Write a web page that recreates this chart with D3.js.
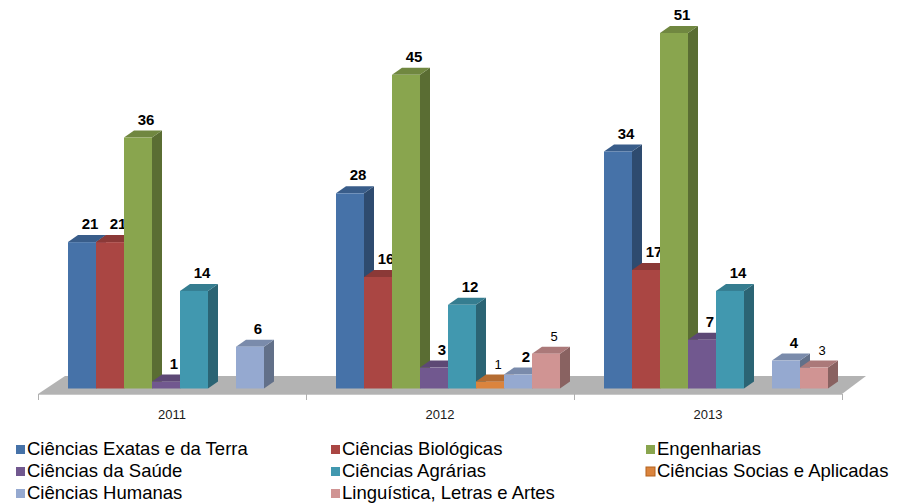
<!DOCTYPE html>
<html><head><meta charset="utf-8">
<script src="https://cdn.jsdelivr.net/npm/d3@7"></script>
<style>body{margin:0;background:#fff}svg{display:block}</style>
</head><body>
<svg id="chart" width="906" height="503"></svg>
<script>
const categories = ["2011", "2012", "2013"];
const seriesNames = [
  "Ciências Exatas e da Terra", "Ciências Biológicas", "Engenharias",
  "Ciências da Saúde", "Ciências Agrárias", "Ciências Socias e Aplicadas",
  "Ciências Humanas", "Linguística, Letras e Artes"
];
const exatas = [21, 28, 34];
const biologicas = [21, 16, 17];
const engenharias = [36, 45, 51];
const saude = [1, 3, 7];
const agrarias = [14, 12, 14];
const sociais = [null, 1, null];
const humanas = [6, 2, 4];
const linguistica = [null, 5, 3];
const seriesValues = [exatas, biologicas, engenharias, saude, agrarias, sociais, humanas, linguistica];

const colors = ["#4672A8", "#AA4643", "#89A54E", "#71588F", "#4198AF", "#DB843D", "#95A9D0", "#D09493"];
const plainLabelSeries = new Set([5, 7]);

const svg = d3.select("#chart");
const x = d3.scaleBand().domain(categories).range([38, 842]).padding(0);
const s = d3.scaleBand().domain(d3.range(seriesNames.length)).range([30, 254]).padding(0);
const y = d3.scaleLinear().domain([0, 51]).range([388.5, 33]);
const dx = 10, dy = 7;

// floor
const fy0 = 394, fdx = 27, fdy = 18;
const [xl, xr] = x.range();
svg.append("path")
  .attr("d", `M${xl},${fy0} L${xl+fdx},${fy0-fdy} L${xr+fdx-3},${fy0-fdy} L${xr},${fy0} Z`)
  .attr("fill", "#B3B3B3");
// axis
const axisG = svg.append("g").attr("transform", `translate(0,${fy0})`);
axisG.append("line").attr("x1", xl).attr("x2", xr).attr("y1", 0.5).attr("y2", 0.5)
  .attr("stroke", "#C8C8C8").attr("stroke-width", 1);
const tickXs = categories.map(c => x(c)).concat([xr]);
axisG.selectAll("line.tick").data(tickXs).enter().append("line")
  .attr("class", "tick").attr("x1", d => d + 0.5).attr("x2", d => d + 0.5)
  .attr("y1", 0).attr("y2", 6).attr("stroke", "#B0B0B0");
axisG.selectAll("text").data(categories).enter().append("text")
  .attr("x", d => x(d) + x.bandwidth() / 2).attr("y", 25)
  .attr("text-anchor", "middle").attr("font-family", "Liberation Sans, Arial, sans-serif")
  .attr("font-size", 13).attr("fill", "#1a1a1a").text(d => d);

function scaleColor(c, k) {
  const r = d3.rgb(c);
  return d3.rgb(r.r * k, r.g * k, r.b * k).formatHex();
}

const bars = [];
categories.forEach((c, ci) => {
  seriesValues.forEach((vals, si) => {
    const v = vals[ci];
    if (v == null || v === 0) return;
    bars.push({c, ci, si, v});
  });
});

const g = svg.append("g");
bars.forEach(b => {
  const x0 = x(b.c) + s(b.si), w = s.bandwidth();
  const yt = y(b.v), yb = y(0);
  const col = colors[b.si];
  g.append("path")
    .attr("d", `M${x0+w},${yb} L${x0+w+dx},${yb-dy} L${x0+w+dx},${yt-dy} L${x0+w},${yt} Z`)
    .attr("fill", scaleColor(col, 0.66));
  g.append("path")
    .attr("d", `M${x0},${yt} L${x0+dx},${yt-dy} L${x0+w+dx},${yt-dy} L${x0+w},${yt} Z`)
    .attr("fill", scaleColor(col, 0.82));
  g.append("rect").attr("x", x0).attr("y", yt).attr("width", w).attr("height", yb - yt)
    .attr("fill", col);
  const plain = plainLabelSeries.has(b.si);
  g.append("text")
    .attr("x", x0 + w / 2 + 8).attr("y", yt - dy - 6)
    .attr("text-anchor", "middle")
    .attr("font-family", "Liberation Sans, Arial, sans-serif")
    .attr("font-size", plain ? 13 : 15)
    .attr("font-weight", plain ? "normal" : "bold")
    .attr("fill", "#000").text(b.v);
});

// legend
const legX = [16, 331, 646];
const legY = [455, 477, 499];
const leg = svg.append("g");
seriesNames.forEach((name, i) => {
  const col = i % 3, row = Math.floor(i / 3);
  const lx = legX[col], ly = legY[row];
  leg.append("rect").attr("x", lx).attr("y", ly - 10).attr("width", 9).attr("height", 9)
    .attr("fill", colors[i])
    .attr("stroke", i === 5 ? "#B4621F" : "none").attr("stroke-width", 1);
  leg.append("text").attr("x", lx + 11).attr("y", ly)
    .attr("font-family", "Liberation Sans, Arial, sans-serif")
    .attr("font-size", 18.5).attr("fill", "#000").text(name);
});
</script>
</body></html>
